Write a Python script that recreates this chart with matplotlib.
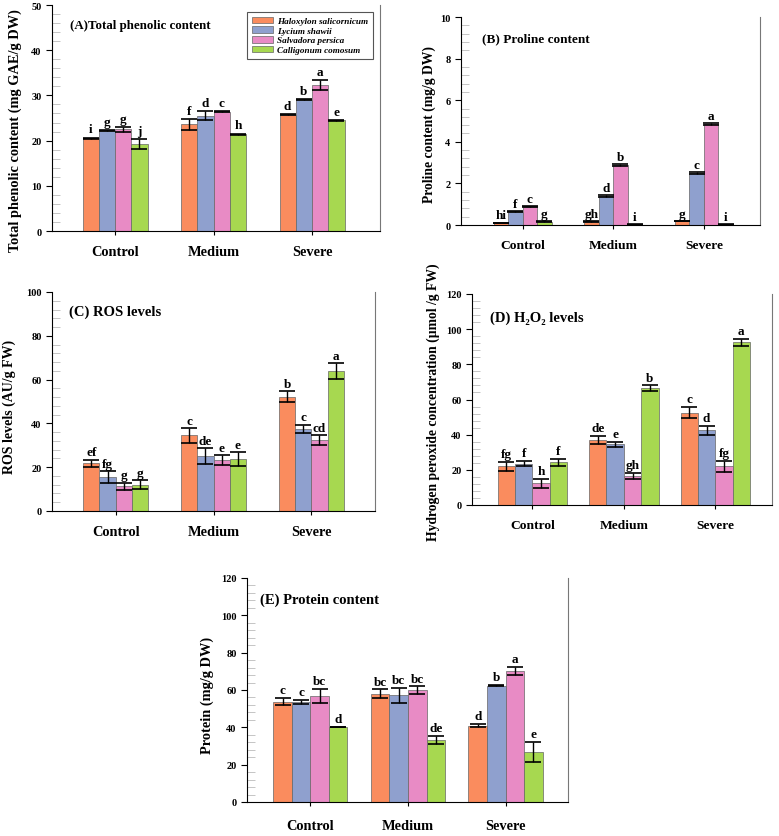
import numpy as np
import matplotlib.pyplot as plt
from matplotlib.ticker import AutoMinorLocator

plt.rcParams['font.family'] = ['Liberation Serif', 'DejaVu Serif']
plt.rcParams['font.weight'] = 'bold'

groups = ['Control', 'Medium', 'Severe']
species = ['Haloxylon salicornicum', 'Lycium shawii', 'Salvadora persica', 'Calligonum comosum']
colors = ['#FA8C5E', '#8FA0CE', '#E88BC5', '#A7D850']

# (A) total phenolic content, rows = species, cols = groups
phen = np.array([[20.5, 23.6, 25.7],
                 [22.2, 25.5, 29.0],
                 [22.5, 26.4, 32.3],
                 [19.3, 21.4, 24.5]])
phen_err = np.array([[0.15, 1.2, 0.1],
                     [0.1, 1.0, 0.1],
                     [0.5, 0.1, 1.0],
                     [1.1, 0.15, 0.1]])
phen_lab = [['i', 'f', 'd'], ['g', 'd', 'b'], ['g', 'c', 'a'], ['j', 'h', 'e']]

# (B) proline
prol = np.array([[0.10, 0.16, 0.19],
                 [0.64, 1.38, 2.49],
                 [0.88, 2.89, 4.86],
                 [0.16, 0.04, 0.03]])
prol_err = np.array([[0.02, 0.02, 0.02],
                     [0.03, 0.04, 0.04],
                     [0.03, 0.06, 0.04],
                     [0.02, 0.02, 0.02]])
prol_lab = [['hi', 'gh', 'g'], ['f', 'd', 'c'], ['c', 'b', 'a'], ['g', 'i', 'i']]

# (C) ROS
ros = np.array([[21.7, 34.5, 52.2],
                [15.4, 25.2, 37.4],
                [11.4, 23.3, 32.5],
                [12.1, 23.7, 64.0]])
ros_err = np.array([[1.8, 3.3, 2.5],
                    [2.8, 3.6, 2.0],
                    [1.6, 2.1, 2.2],
                    [2.0, 3.2, 3.6]])
ros_lab = [['ef', 'c', 'b'], ['fg', 'de', 'c'], ['g', 'e', 'cd'], ['g', 'e', 'a']]

# (D) H2O2
h2o2 = np.array([[22.0, 37.0, 52.6],
                 [23.5, 34.6, 42.5],
                 [12.3, 16.6, 21.9],
                 [24.2, 66.5, 92.5]])
h2o2_err = np.array([[2.6, 2.2, 3.0],
                     [1.6, 1.5, 2.6],
                     [2.6, 1.7, 3.0],
                     [2.0, 1.5, 2.0]])
h2o2_lab = [['fg', 'de', 'c'], ['f', 'e', 'd'], ['h', 'gh', 'fg'], ['f', 'b', 'a']]

# (E) protein
prot = np.array([[53.8, 58.0, 40.9],
                 [53.7, 57.2, 62.3],
                 [57.0, 59.9, 70.2],
                 [40.2, 33.2, 26.8]])
prot_err = np.array([[1.8, 2.3, 0.8],
                     [1.1, 4.1, 0.2],
                     [3.8, 2.0, 2.3],
                     [0.2, 2.0, 5.5]])
prot_lab = [['c', 'bc', 'd'], ['c', 'bc', 'b'], ['bc', 'bc', 'a'], ['d', 'de', 'e']]

W, H = 779, 837
fig = plt.figure(figsize=(W / 100, H / 100), dpi=100)


def add_ax(x0, x1, y0, y1):
    return fig.add_axes([x0 / W, 1 - y1 / H, (x1 - x0) / W, (y1 - y0) / H])


def panel(ax, vals, errs, labs, bw, ymax, ystep, ylabel, title, tpos, xlim, lab_off,
          ylab_fs, ylab_pos, title_fs, cat_fs):
    x = np.arange(len(groups))
    for i in range(len(species)):
        xs = x + (i - 1.5) * bw
        ax.bar(xs, vals[i], bw, color=colors[i], edgecolor='#666666', linewidth=0.5,
               label=species[i], zorder=2)
        ax.errorbar(xs, vals[i], yerr=errs[i], fmt='none', ecolor='black',
                    elinewidth=1.0, capsize=6, capthick=1.2, zorder=3)
        for j in range(len(groups)):
            ax.text(xs[j], vals[i][j] + errs[i][j] + lab_off, labs[i][j],
                    ha='center', va='bottom', fontsize=9.5, fontweight='bold')
    ax.set_xlim(*xlim)
    ax.set_ylim(0, ymax)
    ax.set_yticks(np.arange(0, ymax + ystep / 2, ystep))
    ax.yaxis.set_minor_locator(AutoMinorLocator(5))
    ax.tick_params(axis='y', which='major', direction='out', length=4, labelsize=7.5)
    ax.tick_params(axis='y', which='minor', direction='in', length=6, color='#bbbbbb')
    ax.set_xticks(x)
    ax.set_xticklabels(groups, fontsize=cat_fs, fontweight='bold')
    ax.tick_params(axis='x', length=3, pad=7)
    ax.spines['top'].set_visible(False)
    ax.spines['right'].set_color('#777777')
    ax.set_ylabel(ylabel, fontsize=ylab_fs, fontweight='bold')
    ax.yaxis.label.set_verticalalignment('center')
    ax.yaxis.set_label_coords(*ylab_pos)
    ax.text(tpos[0], tpos[1], title, transform=ax.transAxes, fontsize=title_fs,
            fontweight='bold', va='center', ha='left')


axA = add_ax(52, 380, 6, 232)
panel(axA, phen, phen_err, phen_lab, 0.165, 50, 10,
      'Total phenolic content (mg GAE/g DW)', '(A)Total phenolic content',
      (0.055, 0.91), (-0.64, 2.69), 0.5, 10.4, (-0.113, 0.45), 9.3, 10.4)
leg = axA.legend(loc='upper right', bbox_to_anchor=(0.979, 0.969),
                 prop={'style': 'italic', 'weight': 'bold', 'size': 6.6},
                 handlelength=2.3, handleheight=0.75, labelspacing=0.12,
                 handletextpad=0.5, borderpad=0.5, borderaxespad=0,
                 fancybox=False, edgecolor='#555555', framealpha=1)
leg.get_frame().set_linewidth(0.8)

axB = add_ax(461, 760, 18, 226)
panel(axB, prol, prol_err, prol_lab, 0.16, 10, 2,
      'Proline content (mg/g DW)', '(B) Proline content',
      (0.07, 0.90), (-0.68, 2.62), 0.05, 9.8, (-0.107, 0.486), 9.5, 9.7)

axC = add_ax(52, 375, 293, 512)
panel(axC, ros, ros_err, ros_lab, 0.165, 100, 20,
      'ROS levels (AU/g FW)', '(C) ROS levels',
      (0.053, 0.91), (-0.65, 2.65), 0.6, 10.0, (-0.133, 0.48), 10.5, 10.4)

axD = add_ax(472, 772, 295, 506)
panel(axD, h2o2, h2o2_err, h2o2_lab, 0.19, 120, 20,
      'Hydrogen peroxide concentration (µmol /g FW)', '(D) H\u2082O\u2082 levels',
      (0.06, 0.89), (-0.66, 2.62), 1.0, 9.8, (-0.13, 0.49), 10.5, 9.7)

axE = add_ax(247, 568, 579, 803)
panel(axE, prot, prot_err, prot_lab, 0.19, 120, 20,
      'Protein (mg/g DW)', '(E) Protein content',
      (0.04, 0.905), (-0.65, 2.64), 1.0, 10.4, (-0.125, 0.48), 10.5, 10.4)
axE.tick_params(axis='x', pad=9)

fig.savefig('out.png', dpi=100)
